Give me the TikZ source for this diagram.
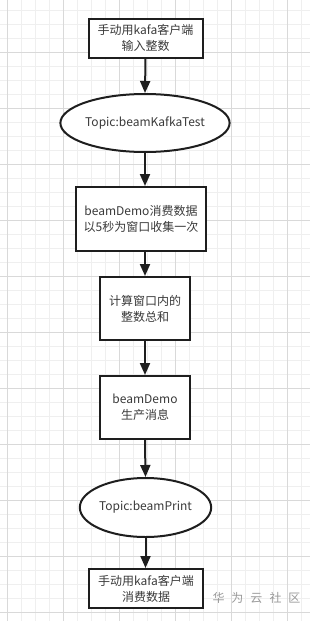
\documentclass[tikz,border=0pt]{standalone}
\usepackage{fontspec}
\setmainfont{Noto Sans CJK SC}
\usetikzlibrary{shapes.geometric,arrows.meta}
\definecolor{minorgrid}{HTML}{EFEFEF}
\definecolor{majorgrid}{HTML}{D9D9D9}
\definecolor{txt}{HTML}{3A3A3A}
\definecolor{edge}{HTML}{1E1E1E}
\definecolor{wm}{HTML}{9A9A9A}
\tikzset{
  box/.style={draw=edge, line width=2pt, fill=white, rectangle, inner sep=0pt,
    align=center, text=txt, font=\fontsize{12}{16}\selectfont},
  ell/.style={draw=edge, line width=2pt, fill=white, ellipse, inner sep=0pt,
    align=center, text=txt, font=\fontsize{12}{16}\selectfont},
  flow/.style={draw=edge, line width=2pt, -{Triangle[length=12pt,width=10pt]}},
}
\begin{document}
\begin{tikzpicture}[x=1pt,y=-1pt]
\useasboundingbox (0,0) rectangle (310,621);
\fill[white] (0,0) rectangle (310,621);
% grid
\foreach \i in {0,...,22} {
  \draw[minorgrid, line width=0.6pt] (7.3+14*\i,0) -- (7.3+14*\i,621);
}
\foreach \j in {0,...,44} {
  \draw[minorgrid, line width=0.6pt] (0,10+14*\j) -- (310,10+14*\j);
}
\foreach \i in {0,...,5} {
  \draw[majorgrid, line width=0.6pt] (7.3+56*\i,0) -- (7.3+56*\i,621);
}
\foreach \j in {0,...,11} {
  \draw[majorgrid, line width=0.6pt] (0,-4+56*\j) -- (310,-4+56*\j);
}
% nodes
\node[box, minimum width=114pt, minimum height=39pt] (b1) at (145.5,38) {手动用kafa客户端\\输入整数};
\node[ell, minimum width=166pt, minimum height=58pt] (e1) at (145,123) {Topic:beamKafkaTest};
\node[box, minimum width=130pt, minimum height=64pt] (b2) at (141,219) {beamDemo消费数据\\以5秒为窗口收集一次};
\node[box, minimum width=90pt, minimum height=63pt] (b3) at (145,308.5) {计算窗口内的\\整数总和};
\node[box, minimum width=90pt, minimum height=63pt] (b4) at (145,407.5) {beamDemo\\生产消息};
\node[ell, minimum width=117pt, minimum height=59pt] (e2) at (145.5,507.5) {Topic:beamPrint};
\node[box, minimum width=114pt, minimum height=39pt] (b5) at (146,588.5) {手动用kafa客户端\\消费数据};
\node[text=wm, font=\fontsize{12}{14}\selectfont, inner sep=0pt] (wmk) at (256.5,598) {\spaceskip=7pt 华 为 云 社 区};
% connectors
\draw[flow] (b1.south) -- (e1.north);
\draw[flow] (e1.south) -- (e1.south |- b2.north);
\draw[flow] (b2.south -| b3.north) -- (b3.north);
\draw[flow] (b3.south) -- (b4.north);
\draw[flow] (b4.south) -- (e2.north);
\draw[flow] (e2.south) -- (e2.south |- b5.north);
\end{tikzpicture}
\end{document}
